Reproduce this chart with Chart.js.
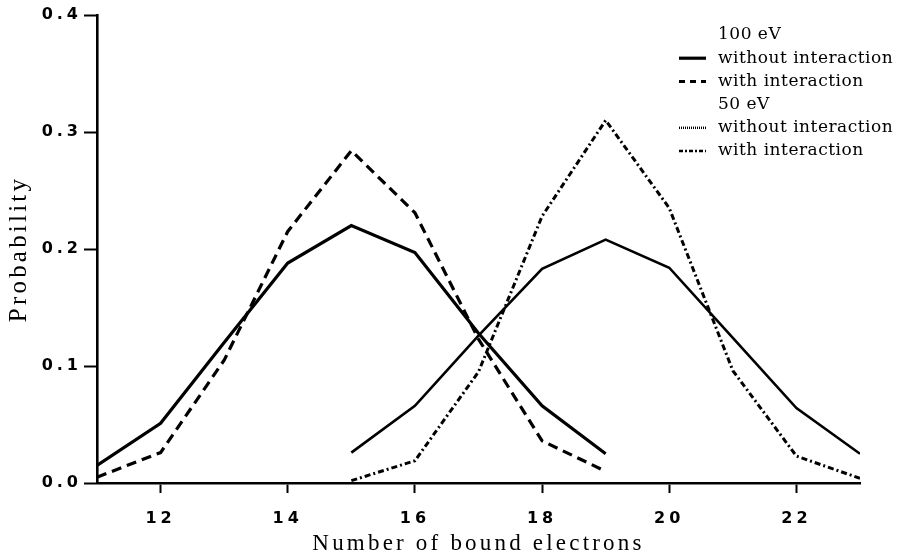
<!DOCTYPE html>
<html><head><meta charset="utf-8">
<script src="https://cdn.jsdelivr.net/npm/chart.js@4.4.1/dist/chart.umd.min.js"></script>
<style>html,body{margin:0;padding:0;background:#fff;}canvas{display:block;}</style>
</head><body>
<canvas id="c" width="898" height="556"></canvas>
<script>
// ---- data ----
const electrons100 = [11, 12, 13, 14, 15, 16, 17, 18, 19];
const without100   = [0.015, 0.051, 0.120, 0.188, 0.220, 0.197, 0.128, 0.066, 0.025];
const with100      = [0.005, 0.026, 0.105, 0.215, 0.284, 0.231, 0.123, 0.036, 0.010];
const electrons50  = [15, 16, 17, 18, 19, 20, 21, 22, 23];
const without50    = [0.026, 0.066, 0.126, 0.183, 0.208, 0.184, 0.124, 0.064, 0.025];
const with50       = [0.002, 0.019, 0.095, 0.228, 0.310, 0.235, 0.096, 0.023, 0.004];
const xTickValues  = [12, 14, 16, 18, 20, 22];
const yTickValues  = [0.0, 0.1, 0.2, 0.3, 0.4];
const legendTexts  = ['100 eV', 'without interaction', 'with interaction', '50 eV', 'without interaction', 'with interaction'];
const xTitle = 'Number of bound electrons';
const yTitle = 'Probability';

const pts = (xs, ys) => xs.map((x, i) => ({x: x, y: ys[i]}));

const styles = {
  s100: {w: 3.2, dash: []},
  d100: {w: 3.2, dash: [10, 6]},
  s50:  {w: 2.6, dash: []},
  dd50: {w: 3, dash: [6, 3, 2, 3]}
};
const legendStyle = [null, {w: 3.2, dash: []}, {w: 3, dash: [6, 5]}, null, {w: 2.5, dash: [1, 1]}, {w: 2.6, dash: [4, 2, 2, 2]}];

// letter spacing: titles (drawn before datasets), tick labels (z=1, drawn after datasets)
const spacingPlugin = {
  id: 'spacing',
  beforeDraw(chart) { chart.ctx.letterSpacing = '3.2px'; },
  beforeDatasetsDraw(chart) { chart.ctx.letterSpacing = '0px'; },
  afterDatasetsDraw(chart) { chart.ctx.letterSpacing = '4px'; }
};

const legendPlugin = {
  id: 'customLegend',
  afterDraw(chart) {
    const ctx = chart.ctx;
    ctx.save();
    ctx.letterSpacing = '0.5px';
    ctx.font = '17px "DejaVu Serif", serif';
    ctx.fillStyle = '#000';
    ctx.textBaseline = 'middle';
    ctx.textAlign = 'left';
    const x0 = 679, x1 = 706, tx = 718, y0 = 35, dy = 23.2;
    legendTexts.forEach((t, i) => {
      const y = y0 + i * dy;
      const st = legendStyle[i];
      if (st) {
        ctx.beginPath();
        ctx.setLineDash(st.dash);
        ctx.lineWidth = st.w;
        ctx.strokeStyle = '#000';
        ctx.moveTo(x0, y);
        ctx.lineTo(x1, y);
        ctx.stroke();
      }
      ctx.fillText(t, tx, y);
    });
    ctx.restore();
    ctx.letterSpacing = '0px';
  }
};

const ds = (data, st) => ({
  data: data,
  borderColor: '#000',
  backgroundColor: '#000',
  borderWidth: st.w,
  borderDash: st.dash,
  pointRadius: 0,
  tension: 0,
  fill: false
});

new Chart(document.getElementById('c'), {
  type: 'line',
  data: {
    datasets: [
      ds(pts(electrons100, without100), styles.s100),
      ds(pts(electrons100, with100), styles.d100),
      ds(pts(electrons50, without50), styles.s50),
      ds(pts(electrons50, with50), styles.dd50)
    ]
  },
  options: {
    responsive: false,
    animation: false,
    layout: {padding: {top: 15, right: 38, left: 0, bottom: 0}},
    plugins: {legend: {display: false}, tooltip: {enabled: false}},
    scales: {
      x: {
        type: 'linear',
        min: 11, max: 23,
        afterBuildTicks: (s) => { s.ticks = xTickValues.map(v => ({value: v})); },
        afterFit: (s) => { s.height = 73; },
        border: {display: true, color: '#000', width: 2.6},
        grid: {display: true, drawOnChartArea: false, drawTicks: true, tickLength: 10, tickColor: '#000', tickWidth: 2},
        ticks: {color: '#000', padding: 16, maxRotation: 0, autoSkip: false, z: 1,
          font: {family: '"DejaVu Sans", sans-serif', weight: 'bold', size: 16}},
        title: {display: true, text: xTitle, color: '#000', padding: {top: 0, bottom: 1},
          font: {family: '"Liberation Serif", "Times New Roman", serif', size: 23, lineHeight: 1}}
      },
      y: {
        type: 'linear',
        min: 0, max: 0.4,
        afterBuildTicks: (s) => { s.ticks = yTickValues.map(v => ({value: v})); },
        afterFit: (s) => { s.width = 97; },
        border: {display: true, color: '#000', width: 2.6},
        grid: {display: true, drawOnChartArea: false, drawTicks: true, tickLength: 13, tickColor: '#000', tickWidth: 2},
        ticks: {color: '#000', padding: 2, z: 1, callback: (v) => Number(v).toFixed(1),
          font: {family: '"DejaVu Sans", sans-serif', weight: 'bold', size: 16}},
        title: {display: true, text: yTitle, color: '#000', padding: {top: 4, bottom: 0},
          font: {family: '"Liberation Serif", "Times New Roman", serif', size: 25, lineHeight: 1.2}}
      }
    }
  },
  plugins: [spacingPlugin, legendPlugin]
});
</script>
</body></html>
